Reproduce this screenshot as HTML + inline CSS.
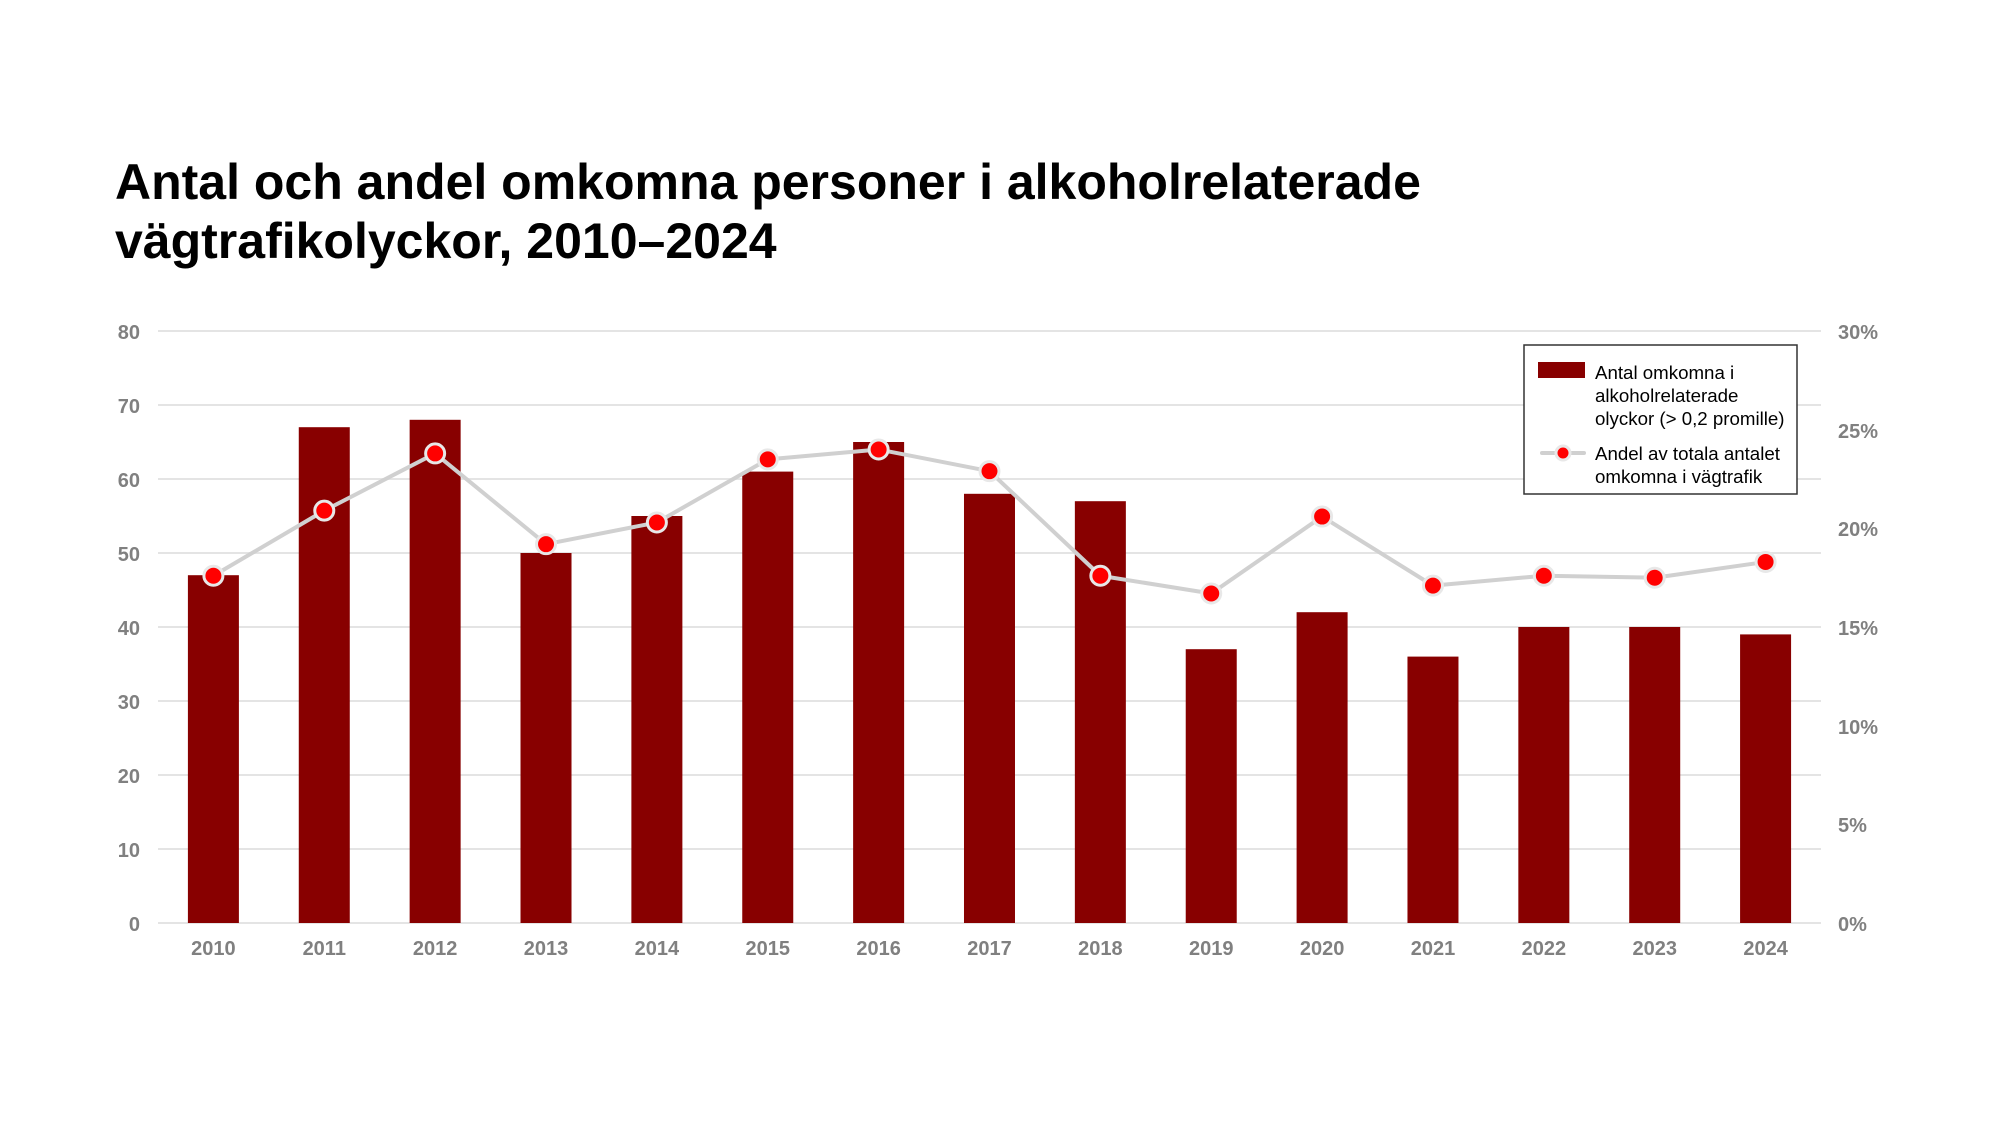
<!DOCTYPE html>
<html><head><meta charset="utf-8"><style>body{margin:0;background:#fff}svg{display:block}</style></head><body>
<svg width="2000" height="1125" viewBox="0 0 2000 1125" font-family="Liberation Sans, Arial, sans-serif">
<text x="115" y="199" font-size="50" font-weight="bold" fill="#000">Antal och andel omkomna personer i alkoholrelaterade</text>
<text x="115" y="258" font-size="50" font-weight="bold" fill="#000">vägtrafikolyckor, 2010–2024</text>
<g stroke="#e4e4e4" stroke-width="2">
<line x1="158" x2="1821" y1="331" y2="331"/><line x1="158" x2="1821" y1="405" y2="405"/><line x1="158" x2="1821" y1="479" y2="479"/><line x1="158" x2="1821" y1="553" y2="553"/><line x1="158" x2="1821" y1="627" y2="627"/><line x1="158" x2="1821" y1="701" y2="701"/><line x1="158" x2="1821" y1="775" y2="775"/><line x1="158" x2="1821" y1="849" y2="849"/><line x1="158" x2="1821" y1="923" y2="923"/>
</g>
<g font-size="20" font-weight="bold" fill="#808080" text-anchor="end">
<text x="140" y="339">80</text><text x="140" y="413">70</text><text x="140" y="487">60</text><text x="140" y="561">50</text><text x="140" y="635">40</text><text x="140" y="709">30</text><text x="140" y="783">20</text><text x="140" y="857">10</text><text x="140" y="931">0</text>
</g>
<g font-size="20" font-weight="bold" fill="#808080">
<text x="1838" y="339">30%</text><text x="1838" y="438">25%</text><text x="1838" y="536">20%</text><text x="1838" y="635">15%</text><text x="1838" y="734">10%</text><text x="1838" y="832">5%</text><text x="1838" y="931">0%</text>
</g>
<g fill="#880000" id="bars"></g>
<g font-size="20" font-weight="bold" fill="#808080" text-anchor="middle" id="xl"></g>
<polyline id="ln" fill="none" stroke="#d0d0d0" stroke-width="4" stroke-linejoin="round"/>
<g id="mk" fill="#ff0000" stroke="#e8e8e8" stroke-width="3"></g>
<rect x="1524" y="345" width="273" height="149" fill="#fff" stroke="#333" stroke-width="1.5"/>
<rect x="1538" y="362" width="47" height="16" fill="#880000"/>
<g font-size="18.7" fill="#000">
<text x="1595" y="379">Antal omkomna i</text><text x="1595" y="402">alkoholrelaterade</text><text x="1595" y="425">olyckor (&gt; 0,2 promille)</text>
<text x="1595" y="460">Andel av totala antalet</text><text x="1595" y="483">omkomna i vägtrafik</text>
</g>
<line x1="1542" x2="1584" y1="453" y2="453" stroke="#d0d0d0" stroke-width="4" stroke-linecap="round"/>
<circle cx="1563" cy="453" r="7" fill="#ff0000" stroke="#e8e8e8" stroke-width="3"/>
<script>
var b=[47,67,68,50,55,61,65,58,57,37,42,36,40,40,39],p=[17.6,20.9,23.8,19.2,20.3,23.5,24.0,22.9,17.6,16.7,20.6,17.1,17.6,17.5,18.3];
var ns="http://www.w3.org/2000/svg",pts=[];
for(var i=0;i<15;i++){var cx=158+55.4+i*110.87;
var r=document.createElementNS(ns,"rect");var h=b[i]*7.4;r.setAttribute("x",cx-25.5);r.setAttribute("y",923-h);r.setAttribute("width",51);r.setAttribute("height",h);document.getElementById("bars").appendChild(r);
var t=document.createElementNS(ns,"text");t.setAttribute("x",cx);t.setAttribute("y",955);t.textContent=2010+i;document.getElementById("xl").appendChild(t);
var y=923-p[i]*19.73;pts.push(cx+","+y);
var c=document.createElementNS(ns,"circle");c.setAttribute("cx",cx);c.setAttribute("cy",y);c.setAttribute("r",9.5);document.getElementById("mk").appendChild(c);}
document.getElementById("ln").setAttribute("points",pts.join(" "));
</script>
</svg>
</body></html>
